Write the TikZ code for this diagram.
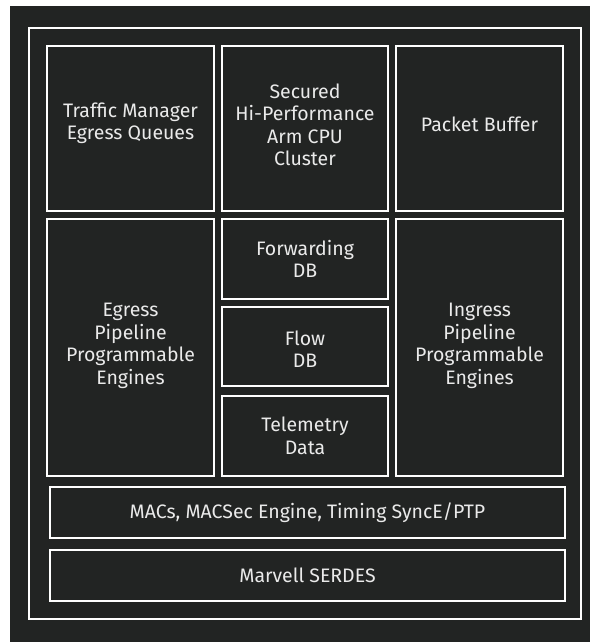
\documentclass[tikz,border=0pt]{standalone}
\usepackage{fontspec}
\setmainfont{Fira Sans}
\definecolor{bg}{HTML}{222423}
\definecolor{txt}{HTML}{EAEAEA}
\begin{document}
\begin{tikzpicture}[x=1pt,y=-1pt,
  box/.style={draw=white, line width=2pt, inner sep=0pt},
  lbl/.style={inner sep=0pt, align=center, text=txt,
    font=\fontsize{19.5}{22.5}\selectfont},
  ]
\useasboundingbox (0,0) rectangle (590,642);
\fill[bg] (10,6) rectangle (590,642);
\node[box, minimum width=552, minimum height=591] (outer) at (305,323.5) {};
\node[box, minimum width=167, minimum height=165] (tm) at (130.5,128.5) {};
\node[box, minimum width=166, minimum height=165] (cpu) at (305,128.5) {};
\node[box, minimum width=167, minimum height=165] (pb) at (479.5,128.5) {};
\node[box, minimum width=167, minimum height=257] (eg) at (130.5,347.5) {};
\node[box, minimum width=166, minimum height=80] (fw) at (305,259) {};
\node[box, minimum width=166, minimum height=79] (flow) at (305,346.5) {};
\node[box, minimum width=166, minimum height=80] (tel) at (305,436) {};
\node[box, minimum width=167, minimum height=257] (ing) at (479.5,347.5) {};
\node[box, minimum width=515, minimum height=51] (mac) at (307.5,512.5) {};
\node[box, minimum width=515, minimum height=51] (ser) at (307.5,575.5) {};
\node[lbl] (tm-t) at ([yshift=5pt]tm.center) {Traffic Manager\\Egress Queues};
\node[lbl] (cpu-t) at ([yshift=3.5pt]cpu.center) {Secured\\Hi-Performance\\Arm CPU\\Cluster};
\node[lbl] (pb-t) at ([yshift=4pt]pb.center) {Packet Buffer};
\node[lbl] (eg-t) at ([yshift=1.5pt]eg.center) {Egress\\Pipeline\\Programmable\\Engines};
\node[lbl] (fw-t) at (fw.center) {Forwarding\\DB};
\node[lbl] (flow-t) at ([yshift=-2.5pt]flow.center) {Flow\\DB};
\node[lbl] (tel-t) at (tel.center) {Telemetry\\Data};
\node[lbl] (ing-t) at ([yshift=1.5pt]ing.center) {Ingress\\Pipeline\\Programmable\\Engines};
\node[lbl] (mac-t) at (mac.center) {MACs, MACSec Engine, Timing SyncE/PTP};
\node[lbl] (ser-t) at (ser.center) {Marvell SERDES};
\end{tikzpicture}
\end{document}
